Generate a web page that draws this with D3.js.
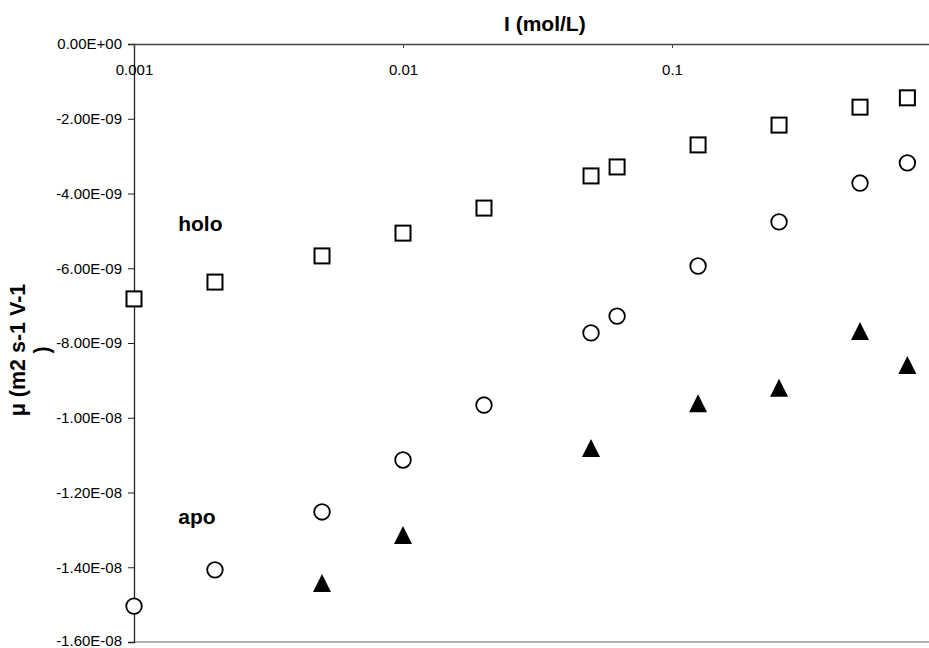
<!DOCTYPE html>
<html>
<head>
<meta charset="utf-8">
<script src="https://cdn.jsdelivr.net/npm/d3@7/dist/d3.min.js"></script>
<style>
	html, body { margin: 0; padding: 0; background: #fff; }
	#chart { width: 929px; height: 648px; }
	text { font-family: "Liberation Sans", Arial, sans-serif; fill: #000; }
</style>
</head>
<body>
<div id="chart"></div>
<script>
// ionic strength (mol/L) for each measurement
const ionicStrength = [0.001, 0.002, 0.005, 0.01, 0.02, 0.05, 0.0625, 0.125, 0.25, 0.5, 0.75];
// holo - open squares
const holoMobility = [-6.82e-9, -6.37e-9, -5.67e-9, -5.06e-9, -4.39e-9, -3.53e-9, -3.29e-9, -2.70e-9, -2.17e-9, -1.69e-9, -1.44e-9];
// apo - open circles
const apoMobility = [-15.04e-9, -14.07e-9, -12.52e-9, -11.13e-9, -9.66e-9, -7.73e-9, -7.28e-9, -5.94e-9, -4.76e-9, -3.72e-9, -3.18e-9];
// apo - filled triangles, fewer points
const apoTriStrength = [0.005, 0.01, 0.05, 0.125, 0.25, 0.5, 0.75];
const apoTriMobility = [-14.42e-9, -13.14e-9, -10.81e-9, -9.61e-9, -9.20e-9, -7.68e-9, -8.59e-9];

const xTicks = [0.001, 0.01, 0.1];
const yTicks = [0, -2e-9, -4e-9, -6e-9, -8e-9, -10e-9, -12e-9, -14e-9, -16e-9];
const seriesLabels = [
	{text: "holo", x: 0.00146, y: -5.0e-9},
	{text: "apo", x: 0.00146, y: -12.84e-9}
];

let width = 929, height = 648;
let svg = d3.select("#chart").append("svg")
	.attr("width", width)
	.attr("height", height);

let margin = {top: 44, left: 134, bottom: 6};

// log axis runs to 1, the right end is cut off by the frame
let x = d3.scaleLog()
	.domain([0.001, 1])
	.range([margin.left, margin.left + 3 * 269]);

let y = d3.scaleLinear()
	.domain([0, -1.6e-8])
	.range([margin.top, height - margin.bottom]);

let sci = d => {
	if (d === 0) return "0.00E+00";
	let [m, e] = d.toExponential(2).split("e");
	let n = Math.abs(+e);
	return m + "E" + (+e < 0 ? "-" : "+") + (n < 10 ? "0" + n : n);
};

// bottom frame line
svg.append("line")
	.attr("x1", margin.left)
	.attr("x2", width)
	.attr("y1", y(-1.6e-8))
	.attr("y2", y(-1.6e-8))
	.attr("stroke", "#666")
	.attr("stroke-width", 1.2);

let yAxis = svg.append("g")
	.attr("transform", `translate(${margin.left},0)`)
	.call(d3.axisLeft(y).tickValues(yTicks).tickFormat(sci).tickSize(6).tickPadding(6));
yAxis.select(".domain").attr("stroke", "#222").attr("stroke-width", 1.3);
yAxis.selectAll(".tick line").attr("stroke", "#222");
yAxis.selectAll("text")
	.style("font-size", "15px")
	.style("font-family", "'Liberation Sans', Arial, sans-serif")
	.attr("fill", "#000");
// keep the lowest label inside the frame
yAxis.selectAll(".tick text").filter(d => d === -16e-9).attr("dy", "0.2em");

let xAxis = svg.append("g")
	.attr("transform", `translate(0,${margin.top})`)
	.call(d3.axisBottom(x).tickValues(xTicks).tickFormat(d => String(d)).tickSize(4).tickPadding(16));
xAxis.select(".domain").attr("stroke", "#444").attr("stroke-width", 1.3);
xAxis.selectAll(".tick line").attr("stroke", "#444");
xAxis.selectAll("text")
	.style("font-size", "15px")
	.style("font-family", "'Liberation Sans', Arial, sans-serif")
	.attr("fill", "#000");

// axis titles
svg.append("text")
	.attr("x", 504)
	.attr("y", 31)
	.attr("text-anchor", "start")
	.style("font-size", "21px")
	.style("font-weight", "bold")
	.text("I (mol/L)");

let yTitle = svg.append("text")
	.attr("transform", "translate(25,350) rotate(-90)")
	.attr("text-anchor", "middle")
	.style("font-size", "21.5px")
	.style("font-weight", "bold");
yTitle.append("tspan").attr("x", 0).attr("dy", 0).text("μ (m2 s-1 V-1");
yTitle.append("tspan").attr("x", 0).attr("dy", 24).text(")");

// series labels
svg.selectAll(".series-label")
	.data(seriesLabels).enter()
	.append("text")
	.attr("class", "series-label")
	.attr("x", d => x(d.x))
	.attr("y", d => y(d.y))
	.style("font-size", "21px")
	.style("font-weight", "bold")
	.text(d => d.text);

let holo = ionicStrength.map((s, i) => ({s, v: holoMobility[i]}));
let apo = ionicStrength.map((s, i) => ({s, v: apoMobility[i]}));
let apoTri = apoTriStrength.map((s, i) => ({s, v: apoTriMobility[i]}));

svg.selectAll(".holo")
	.data(holo).enter()
	.append("rect")
	.attr("class", "holo")
	.attr("x", d => x(d.s) - 7.5)
	.attr("y", d => y(d.v) - 7.5)
	.attr("width", 15)
	.attr("height", 15)
	.attr("fill", "#fff")
	.attr("stroke", "#000")
	.attr("stroke-width", 2);

svg.selectAll(".apo")
	.data(apo).enter()
	.append("circle")
	.attr("class", "apo")
	.attr("cx", d => x(d.s))
	.attr("cy", d => y(d.v))
	.attr("r", 7.8)
	.attr("fill", "#fff")
	.attr("stroke", "#000")
	.attr("stroke-width", 1.8);

// triangle centred on its bounding box
let tri = (cx, cy) => `M${cx},${cy - 9}L${cx + 9},${cy + 9}L${cx - 9},${cy + 9}Z`;
svg.selectAll(".apo-tri")
	.data(apoTri).enter()
	.append("path")
	.attr("class", "apo-tri")
	.attr("d", d => tri(x(d.s), y(d.v)))
	.attr("fill", "#000");
</script>
</body>
</html>
